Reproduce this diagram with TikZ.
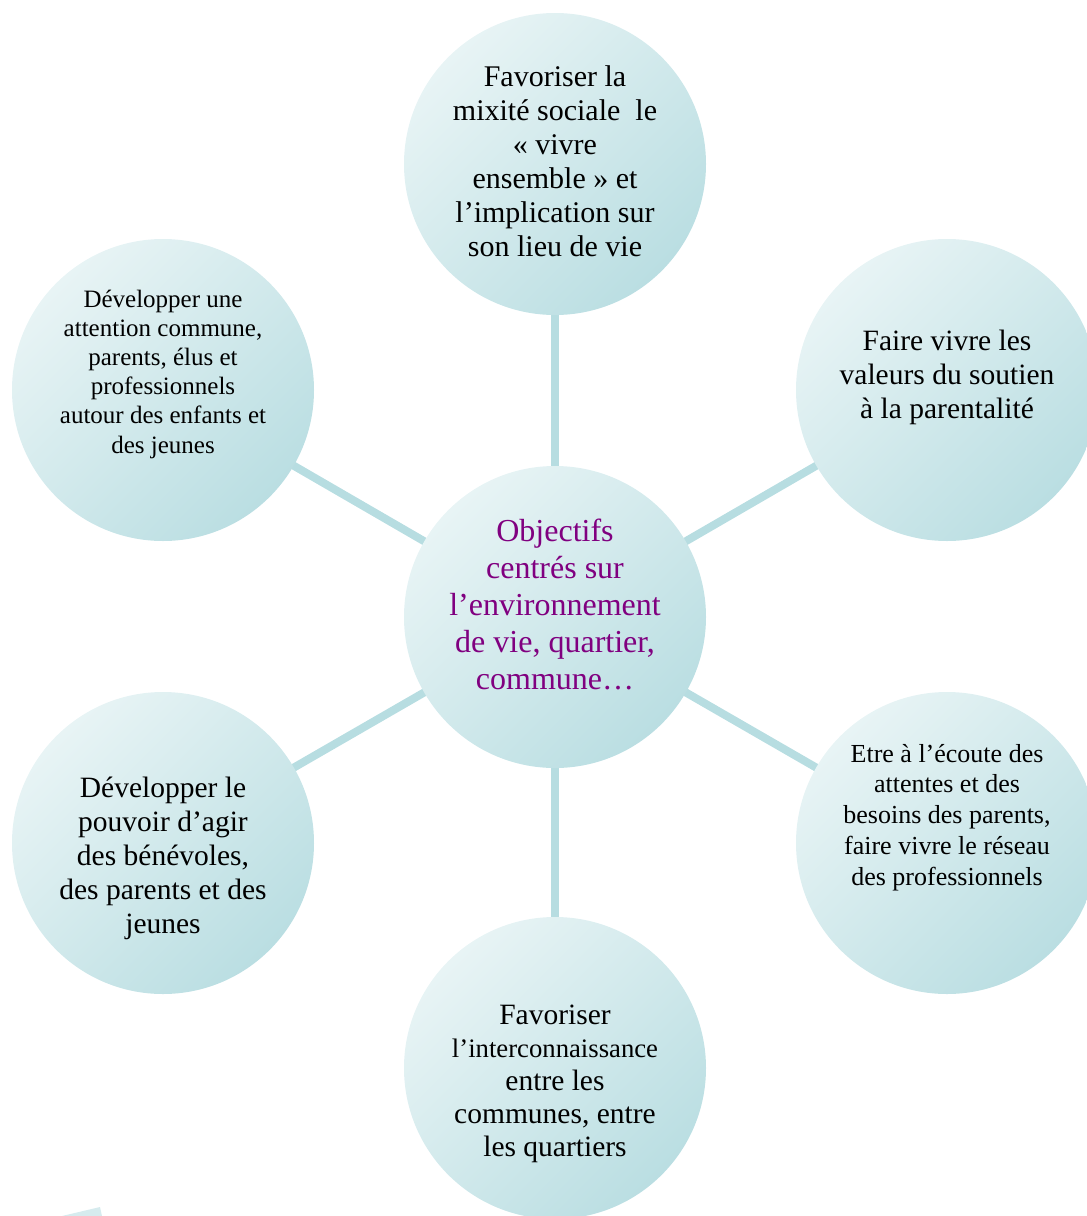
\documentclass[tikz,border=0pt]{standalone}
\usepackage{fontspec}
\setmainfont{Liberation Serif}
\usetikzlibrary{backgrounds}
\definecolor{cLight}{RGB}{232,244,245}
\definecolor{cDark}{RGB}{186,222,226}
\definecolor{cLine}{RGB}{183,221,225}
\definecolor{cArt}{RGB}{214,235,238}
\definecolor{cPurple}{RGB}{128,0,128}
\begin{document}
\begin{tikzpicture}[x=1pt,y=-1pt,
  bubble/.style={circle, minimum size=302pt, inner sep=0pt, draw=none,
    left color=cLight, right color=cDark, shading angle=45},
  link/.style={line width=8pt, draw=cLine},
  txt/.style={align=center, text=black, inner sep=0pt}]
\useasboundingbox (0,0) rectangle (1087,1216);
\clip (0,0) rectangle (1087,1216);
% circles
\node[bubble] (c)  at (555,617) {};
\node[bubble] (t)  at (555,164) {};
\node[bubble] (tr) at (947,390) {};
\node[bubble] (br) at (947,843) {};
\node[bubble] (b)  at (555,1068) {};
\node[bubble] (bl) at (163,843) {};
\node[bubble] (tl) at (163,390) {};
% connectors
\begin{scope}[on background layer]
\draw[link] (c.center) -- (t.center);
\draw[link] (c.center) -- (tr.center);
\draw[link] (c.center) -- (br.center);
\draw[link] (c.center) -- (b.center);
\draw[link] (c.center) -- (bl.center);
\draw[link] (c.center) -- (tl.center);
\end{scope}
% texts
\node[txt, text=cPurple, font=\fontsize{32}{37}\selectfont] (tc) at (555,604)
  {Objectifs\\centrés sur\\l’environnement\\de vie, quartier,\\commune…};
\node[txt, font=\fontsize{30}{34}\selectfont] (tt) at (555,161)
  {Favoriser la\\mixité sociale\ \ le\\« vivre\\ensemble » et\\l’implication sur\\son lieu de vie};
\node[txt, font=\fontsize{29.5}{34}\selectfont] (ttr) at (947,377.5)
  {Faire vivre les\\valeurs du soutien\\à la parentalité};
\node[txt, font=\fontsize{25}{29.2}\selectfont] (ttl) at (163,374)
  {Développer une\\attention commune,\\parents, élus et\\professionnels\\autour des enfants et\\des jeunes};
\node[txt, font=\fontsize{26}{30.8}\selectfont] (tbr) at (947,817.5)
  {Etre à l’écoute des\\attentes et des\\besoins des parents,\\faire vivre le réseau\\des professionnels};
\node[txt, font=\fontsize{29.5}{34}\selectfont] (tbl) at (163,858)
  {Développer le\\pouvoir d’agir\\des bénévoles,\\des parents et des\\jeunes};
\node[txt, font=\fontsize{29.5}{33}\selectfont] (tb) at (555,1084)
  {Favoriser\\{\fontsize{26.7}{33}\selectfont l’interconnaissance}\\entre les\\communes, entre\\les quartiers};
% small cut-off shape at bottom left
\fill[cArt] (62,1216) -- (100,1207) -- (102,1216) -- cycle;
\end{tikzpicture}
\end{document}
